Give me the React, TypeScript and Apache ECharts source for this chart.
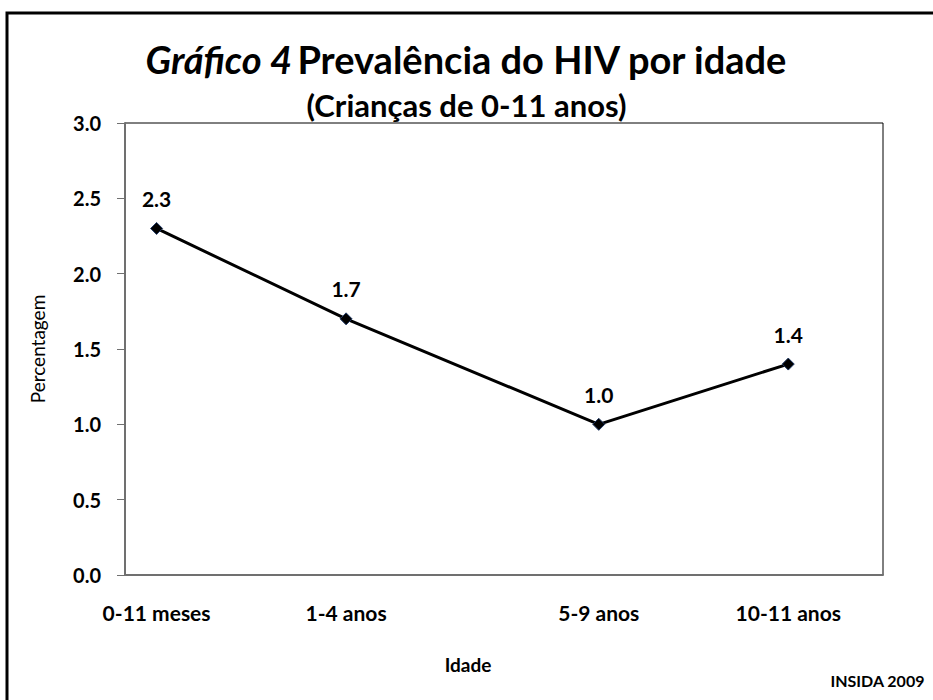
import React, { useEffect, useRef } from "react";
import * as echarts from "echarts";

const categories = ["0-11 meses", "1-4 anos", "5-9 anos", "10-11 anos"];
const xPositions = [0.5, 3.5, 7.5, 10.5];
const values = [2.3, 1.7, 1.0, 1.4];

const FONT = "Lato, 'Open Sans', sans-serif";

export default function App() {
  const ref = useRef<HTMLDivElement>(null);
  useEffect(() => {
    if (!ref.current) return;
    const chart = echarts.init(ref.current, undefined, { renderer: "svg" });
    const labelMap: Record<string, string> = {};
    xPositions.forEach((p, i) => (labelMap[String(p)] = categories[i]));
    chart.setOption({
      animation: false,
      backgroundColor: "#fff",
      textStyle: { fontFamily: FONT },
      title: [
        {
          text: "{i|Gráfico 4} {n|Prevalência do HIV por idade}",
          left: "center",
          top: 35,
          textStyle: {
            rich: {
              i: { fontFamily: FONT, fontSize: 38, fontStyle: "italic", fontWeight: "bold", color: "#000" },
              n: { fontFamily: FONT, fontSize: 38, fontWeight: "bold", color: "#000" },
            },
          },
        },
        {
          text: "(Crianças de 0-11 anos)",
          left: "center",
          top: 84,
          textStyle: { fontFamily: FONT, fontSize: 31, fontWeight: "bold", color: "#000" },
        },
      ],
      grid: {
        left: 125,
        top: 123,
        right: 50,
        bottom: 125,
        show: true,
        borderColor: "#000",
        borderWidth: 1,
      },
      xAxis: {
        type: "value",
        min: 0,
        max: 12,
        name: "Idade",
        nameLocation: "middle",
        nameGap: 80,
        nameTextStyle: {
          fontFamily: FONT,
          fontSize: 19,
          fontWeight: "bold",
          color: "#000",
          padding: [0, 72, 0, 0],
        },
        axisLine: { show: true, lineStyle: { color: "#707070", width: 2 } },
        axisTick: { show: false },
        splitLine: { show: false },
        axisLabel: {
          customValues: xPositions,
          margin: 27,
          fontFamily: FONT,
          fontSize: 21,
          fontWeight: "bold",
          color: "#000",
          formatter: (v: number) => labelMap[String(v)] ?? "",
        },
      },
      yAxis: {
        type: "value",
        min: 0,
        max: 3,
        interval: 0.5,
        name: "Percentagem",
        nameLocation: "middle",
        nameGap: 78,
        nameTextStyle: { fontFamily: FONT, fontSize: 19, fontWeight: "normal", color: "#000" },
        axisLine: { show: true, lineStyle: { color: "#707070", width: 2 } },
        axisTick: { show: true, inside: false, length: 8, lineStyle: { color: "#707070", width: 1 } },
        splitLine: { show: false },
        axisLabel: {
          margin: 24,
          fontFamily: FONT,
          fontSize: 20,
          fontWeight: "bold",
          color: "#000",
          formatter: (v: number) => v.toFixed(1),
        },
      },
      graphic: [
        {
          type: "rect",
          shape: { x: 7, y: 13, width: 960, height: 720 },
          style: { fill: "none", stroke: "#000", lineWidth: 3 },
          silent: true,
        },
        {
          type: "text",
          right: 8,
          top: 672,
          style: { text: "INSIDA 2009", font: `bold 16px ${FONT}`, fill: "#000" },
        },
      ],
      series: [
        {
          type: "line",
          data: xPositions.map((x, i) => [x, values[i]]),
          symbol: "diamond",
          symbolSize: 12,
          lineStyle: { color: "#000", width: 3 },
          itemStyle: { color: "#000", borderColor: "#1f3864", borderWidth: 1 },
          label: {
            show: true,
            position: "top",
            distance: 13,
            fontFamily: FONT,
            fontSize: 21,
            fontWeight: "bold",
            color: "#000",
            formatter: (p: any) => p.value[1].toFixed(1),
          },
        },
      ],
    });
    return () => chart.dispose();
  }, []);
  return (
    <div
      ref={ref}
      style={{ position: "fixed", left: 0, top: 0, width: 933, height: 700 }}
    />
  );
}
